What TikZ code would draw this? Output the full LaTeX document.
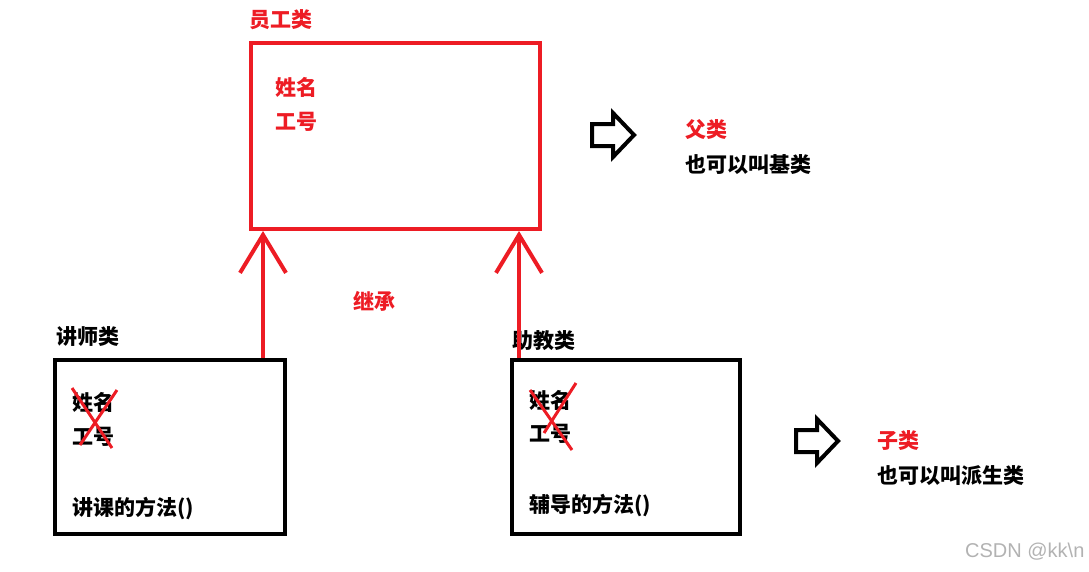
\documentclass[tikz,border=0pt]{standalone}
\usepackage{fontspec}
\setmainfont{Noto Sans CJK SC}
\newfontfamily\wmfont{Liberation Sans}
\usetikzlibrary{arrows.meta}
\definecolor{paintred}{RGB}{237,28,36}
\begin{document}
\begin{tikzpicture}[x=1pt,y=-1pt,line join=miter,
 font=\fontsize{21}{24}\selectfont\bfseries,
 txt/.style={anchor=west,inner sep=0pt},
 classbox/.style={draw,line width=4pt,minimum width=230pt,minimum height=174pt,inner sep=0pt},
 inherit/.style={paintred,line width=4pt,-{Straight Barb[length=38pt,width=46pt]}},
 strike/.style={paintred,line width=3pt}]
\useasboundingbox (0,0) rectangle (1089,571);
% boxes
\node[classbox,paintred,minimum width=289pt,minimum height=186pt] (emp) at (395.5,136) {};
\node[classbox] (lect) at (170,447) {};
\node[classbox,minimum width=228pt] (asst) at (626,447) {};
% texts
\node[txt,paintred] (empname) at (249,20) {员工类};
\node[txt,paintred] (empf1) at (275,87) {姓名};
\node[txt,paintred] (empf2) at (275,122) {工号};
\node[txt] (lectname) at (56,336) {讲师类};
\node[txt] (lectf1) at (72,402) {姓名};
\node[txt] (lectf2) at (72,437) {工号};
\node[txt] (lectm) at (72,508) {讲课的方法()};
\node[txt] (asstname) at (512,341) {助教类};
\node[txt] (asstf1) at (529,400) {姓名};
\node[txt] (asstf2) at (529,434) {工号};
\node[txt] (asstm) at (529,505) {辅导的方法()};
\node[txt,paintred] (inh) at (353,301) {继承};
\node[txt,paintred] (parent) at (685,130) {父类};
\node[txt] (parentalt) at (685,165) {也可以叫基类};
\node[txt,paintred] (child) at (877,441) {子类};
\node[txt] (childalt) at (877,476) {也可以叫派生类};
% inheritance
\draw[inherit] (lect.north west) ++(210,0) coordinate (l1) -- (l1 |- emp.south);
\draw[inherit] (asst.north west) ++(9,0) coordinate (a1) -- (a1 |- emp.south);
% crossed out fields
\draw[strike] (72,388) -- (112,448);
\draw[strike] (117,390) -- (80,445);
\draw[strike] (530,390) -- (572,450);
\draw[strike] (576,383) -- (544,433);
% block arrows
\foreach \bx/\by in {592/135,796/441}{
 \draw[line width=4pt] (\bx,\by) ++(0,-11) -- ++(21,0) -- ++(0,-11)
  -- ++(21,22) -- ++(-21,22) -- ++(0,-11) -- ++(-21,0) -- cycle;
}
\node[txt,font=\wmfont\fontsize{20}{24}\selectfont,text=black!30] (mark) at (965,552) {CSDN @kk\textbackslash n};
\end{tikzpicture}
\end{document}
